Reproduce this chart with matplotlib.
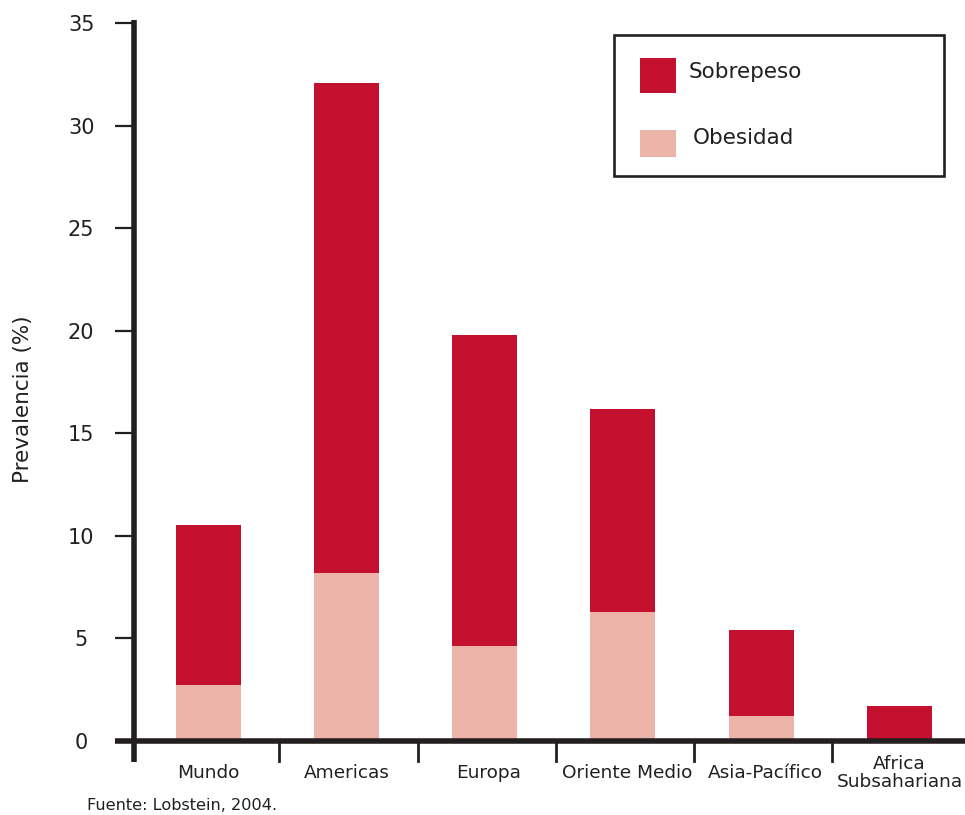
import matplotlib
matplotlib.use("Agg")
import matplotlib.pyplot as plt
from matplotlib.patches import Rectangle
from matplotlib.lines import Line2D

# Prevalence of overweight / obesity by region (%)
regions = ["Mundo", "Americas", "Europa", "Oriente Medio", "Asia-Pacífico", "Africa\nSubsahariana"]
sobrepeso = [10.5, 32.1, 19.8, 16.2, 5.4, 1.7]   # total height of each bar
obesidad = [2.7, 8.2, 4.6, 6.3, 1.2, 0.0]        # lower (obesity) part
yticks = [0, 5, 10, 15, 20, 25, 30, 35]

RED = "#c3112f"
PINK = "#ecb3a8"
INK = "#231f20"

W, H = 965, 815
fig = plt.figure(figsize=(W / 100, H / 100), dpi=100)
plt.rcParams["font.family"] = ["DejaVu Sans"]


def fx(px):
    return px / W


def fy(py):
    return 1 - py / H


ax_left, ax_right, ax_top, ax_bottom = 134, 965, 23.3, 740.7
ax = fig.add_axes([fx(ax_left), fy(ax_bottom), fx(ax_right - ax_left), (ax_bottom - ax_top) / H])

x = list(range(len(regions)))
ax.bar(x, obesidad, width=0.47, color=PINK, linewidth=0)
ax.bar(x, [s - o for s, o in zip(sobrepeso, obesidad)], bottom=obesidad,
       width=0.47, color=RED, linewidth=0)

ax.set_xlim(-0.537, 5.475)
ax.set_ylim(0, 35)

for s in ax.spines.values():
    s.set_visible(False)

# heavy axis lines drawn by hand so they can overshoot the corner
ax_h = ax_bottom - ax_top
ax_w = ax_right - ax_left
ax.add_line(Line2D([0, 0], [-(761.7 - ax_bottom) / ax_h, (ax_bottom - 20) / ax_h],
                   transform=ax.transAxes, color=INK, lw=4.0, clip_on=False,
                   solid_capstyle="butt"))
ax.add_line(Line2D([-(ax_left - 115) / ax_w, 1.0], [0, 0],
                   transform=ax.transAxes, color=INK, lw=4.0, clip_on=False,
                   solid_capstyle="butt"))

# category separators below the x axis
sep_tr = ax.get_xaxis_transform()
for i in range(len(regions) - 1):
    ax.add_line(Line2D([i + 0.515, i + 0.515], [0, -(760.7 - ax_bottom) / ax_h],
                       transform=sep_tr, color=INK, lw=2.0, clip_on=False))

# y ticks
ax.set_yticks(yticks)
ax.tick_params(axis="y", direction="out", length=14, width=1.6, color=INK,
               pad=24, labelsize=15, labelcolor=INK)
for lab in ax.get_yticklabels():
    lab.set_horizontalalignment("center")
ax.set_xticks([])

# category labels
label_dx = [0.0, 0.0, 0.03, 0.03, 0.03, 0.0]
for i, name in enumerate(regions):
    ax.text(i + label_dx[i], -(773 - ax_bottom) / ax_h, name, transform=sep_tr,
            ha="center", va="center", fontsize=13.3, color=INK, linespacing=1.0)

fig.text(fx(23), fy(399.5), "Prevalencia (%)", rotation=90, ha="center", va="center",
         fontsize=15.5, color=INK)
fig.text(fx(86.7), fy(805), "Fuente: Lobstein, 2004.", ha="left", va="center",
         fontsize=11.6, color=INK)

# legend box
fig.add_artist(Rectangle((fx(614), fy(176)), fx(944 - 614), (176 - 35) / H,
                         transform=fig.transFigure, fill=False, edgecolor=INK, lw=1.9))
fig.add_artist(Rectangle((fx(640), fy(93.3)), fx(36), 35.6 / H,
                         transform=fig.transFigure, facecolor=RED, lw=0))
fig.add_artist(Rectangle((fx(640), fy(157.3)), fx(36), 27.3 / H,
                         transform=fig.transFigure, facecolor=PINK, lw=0))
fig.text(fx(689), fy(71.7), "Sobrepeso", ha="left", va="center", fontsize=15.5, color=INK)
fig.text(fx(693), fy(138), "Obesidad", ha="left", va="center", fontsize=15.5, color=INK)

fig.savefig("out.png", dpi=100, facecolor="white")
